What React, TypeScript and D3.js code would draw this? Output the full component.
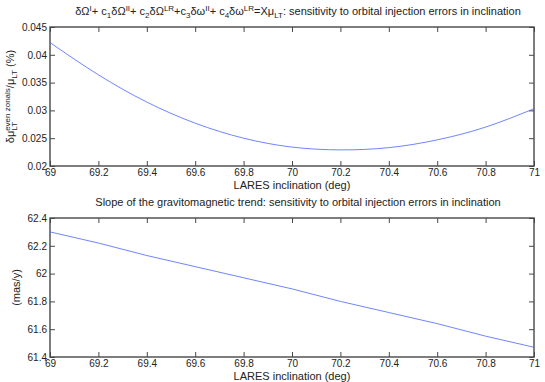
import React, { useEffect, useRef } from "react";
import * as d3 from "d3";

// LARES inclination (deg)
const inclination = [69, 69.2, 69.4, 69.6, 69.8, 70, 70.2, 70.4, 70.6, 70.8, 71];
// sensitivity of the combination (%)
const sensitivity = [0.0422, 0.0364, 0.0315, 0.0277, 0.025, 0.0234, 0.0229, 0.0233, 0.0247, 0.027, 0.0303];
// slope of the gravitomagnetic trend (mas/y)
const slope = [62.3, 62.22, 62.13, 62.05, 61.97, 61.89, 61.8, 61.72, 61.64, 61.55, 61.47];

const xTicks = [69, 69.2, 69.4, 69.6, 69.8, 70, 70.2, 70.4, 70.6, 70.8, 71];
const topYTicks = [0.02, 0.025, 0.03, 0.035, 0.04, 0.045];
const bottomYTicks = [61.4, 61.6, 61.8, 62, 62.2, 62.4];

const topTitle: [string, string][] = [
  ["δΩ", ""], ["I", "sup"], ["+ c", ""], ["1", "sub"], ["δΩ", ""], ["II", "sup"],
  ["+ c", ""], ["2", "sub"], ["δΩ", ""], ["LR", "sup"], ["+c", ""], ["3", "sub"],
  ["δω", ""], ["II", "sup"], ["+ c", ""], ["4", "sub"], ["δω", ""], ["LR", "sup"],
  ["=Xμ", ""], ["LT", "sub"], [": sensitivity to orbital injection errors in inclination", ""],
];
const topYLabel: [string, string][] = [
  ["δμ", ""], ["LT", "sub"], ["even zonals", "supback"], ["/μ", ""], ["LT", "sub"], [" (%)", ""],
];

const W = 545;
const H = 382;
const FONT = "'Liberation Sans', Arial, sans-serif";

function richText(sel: any, parts: [string, string][]) {
  let shift = 0;
  parts.forEach(([t, kind]) => {
    const target = kind === "sup" || kind === "supback" ? -4 : kind === "sub" ? 3 : 0;
    const span = sel.append("tspan").attr("dy", target - shift).text(t);
    if (kind) span.attr("font-size", 8);
    if (kind === "supback") span.attr("dx", -8);
    shift = target;
  });
  if (shift !== 0) sel.append("tspan").attr("dy", -shift).text("");
}

const App = () => {
  const svgRef = useRef<SVGSVGElement>(null);

  useEffect(() => {
    const svg = d3.select(svgRef.current);
    svg.selectAll("*").remove();
    svg.attr("font-family", FONT).attr("font-size", 10);

    const x = d3.scaleLinear().domain([69, 71]).range([50, 534]);

    const panels = [
      { top: 27, bottom: 166, domain: [0.02, 0.045], ticks: topYTicks, dec: 3, values: sensitivity, curve: d3.curveNatural },
      { top: 218, bottom: 357, domain: [61.4, 62.4], ticks: bottomYTicks, dec: 1, values: slope, curve: d3.curveLinear },
    ];

    panels.forEach((p, i) => {
      const y = d3.scaleLinear().domain(p.domain).range([p.bottom, p.top]);
      const fmt = (d: any) => String(+(+d).toFixed(p.dec));
      const axisColor = "#484848";

      const styleAxis = (g: any) => {
        g.select(".domain").remove();
        g.selectAll("line").attr("stroke", axisColor);
        g.selectAll("text").attr("fill", "#222").attr("font-family", FONT).attr("font-size", 10);
      };

      svg.append("g").attr("transform", `translate(0,${p.bottom})`)
        .call(d3.axisBottom(x).tickValues(xTicks).tickSizeInner(-5).tickSizeOuter(0).tickPadding(3).tickFormat(fmt as any))
        .call(styleAxis);
      svg.append("g").attr("transform", `translate(0,${p.top})`)
        .call(d3.axisTop(x).tickValues(xTicks).tickSizeInner(-5).tickSizeOuter(0).tickFormat(() => ""))
        .call(styleAxis);
      svg.append("g").attr("transform", `translate(50,0)`)
        .call(d3.axisLeft(y).tickValues(p.ticks).tickSizeInner(-5).tickSizeOuter(0).tickPadding(3).tickFormat(fmt as any))
        .call(styleAxis);
      svg.append("g").attr("transform", `translate(534,0)`)
        .call(d3.axisRight(y).tickValues(p.ticks).tickSizeInner(-5).tickSizeOuter(0).tickFormat(() => ""))
        .call(styleAxis);

      svg.append("rect")
        .attr("x", 50).attr("y", p.top)
        .attr("width", 484).attr("height", p.bottom - p.top)
        .attr("fill", "none").attr("stroke", axisColor).attr("stroke-width", 1.4);

      const line = d3.line<number>()
        .x((_, j) => x(inclination[j]))
        .y((d) => y(d))
        .curve(p.curve);
      svg.append("path")
        .attr("d", line(p.values))
        .attr("fill", "none")
        .attr("stroke", "#4a66ff")
        .attr("stroke-width", 0.8);

      svg.append("text")
        .attr("x", 292).attr("y", p.bottom + 23)
        .attr("text-anchor", "middle").attr("fill", "#222").attr("font-size", 11)
        .text("LARES inclination (deg)");

      const title = svg.append("text")
        .attr("x", 298).attr("y", p.top - 12)
        .attr("text-anchor", "middle").attr("fill", "#222").attr("font-size", 11);
      if (i === 0) richText(title, topTitle);
      else title.text("Slope of the gravitomagnetic trend: sensitivity to orbital injection errors in inclination");

      const yl = svg.append("text")
        .attr("transform", `translate(${i === 0 ? 14 : 20},${(p.top + p.bottom) / 2}) rotate(-90)`)
        .attr("text-anchor", "middle").attr("fill", "#222").attr("font-size", 11);
      if (i === 0) richText(yl, topYLabel);
      else yl.text("(mas/y)");
    });
  }, []);

  return <svg ref={svgRef} width={W} height={H} style={{ position: "absolute", left: 0, top: 0, background: "#fff" }} />;
};

export default App;
